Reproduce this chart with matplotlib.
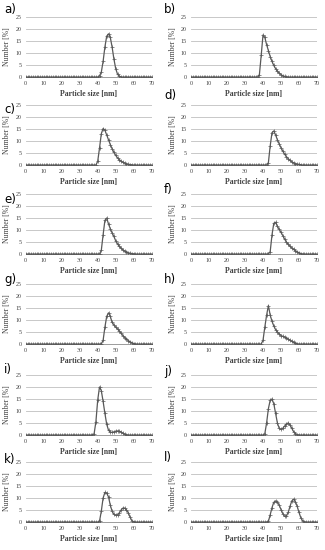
import numpy as np
import matplotlib
matplotlib.use("Agg")
import matplotlib.pyplot as plt

# particle size axis (nm), one point per nm
sizes = list(range(0, 71))

# nonzero part of each distribution: (first size, values in %)
a_vals = (41, [0.5, 2, 6.5, 12.5, 17, 18, 16.5, 12.5, 7.5, 3.5, 1.2, 0.3])
b_vals = (38, [1, 9, 17.5, 16.5, 13.5, 11, 8.5, 6.5, 4.8, 3.5, 2.4, 1.6, 1, 0.5, 0.25, 0.1])
c_vals = (40, [1.5, 7, 13, 15.2, 14.5, 12.5, 10.5, 8.5, 6.8, 5.3, 4, 3, 2.2, 1.6, 1.1,
               0.8, 0.5, 0.3, 0.2, 0.1])
d_vals = (43, [1, 8, 13.5, 14.2, 12.5, 10.5, 8.8, 7.2, 5.8, 4.5, 3.5, 2.6, 1.9, 1.3, 0.9,
               0.6, 0.4, 0.25, 0.1])
e_vals = (42, [1.5, 8, 14, 15, 12.5, 10.5, 8.8, 7.3, 5.5, 4.2, 3.2, 2.4, 1.7, 1.2, 0.8,
               0.5, 0.3, 0.2, 0.1])
f_vals = (44, [1, 8, 12.8, 13.2, 11.5, 10.3, 9, 7.7, 6.2, 5, 4, 3.2, 2.5, 1.9, 1.4, 0.9,
               0.5, 0.2, 0.05])
g_vals = (43, [1.5, 7, 11.5, 13, 11.5, 9, 8, 7, 6.3, 5.4, 4.5, 3.5, 2.7, 2, 1.4, 0.9,
               0.5, 0.2, 0.05])
h_vals = (40, [1.5, 7, 12, 16, 12, 9.5, 7.5, 6, 5, 4.2, 3.5, 3.2, 2.9, 2.5, 2, 1.6, 1.1,
               0.7, 0.3, 0.1])
i_vals = (38, [0.5, 5.5, 14.5, 20, 18.5, 14, 9, 4.5, 2, 1.2, 1.1, 1.3, 1.6, 1.7, 1.6,
               1.2, 0.7, 0.3, 0.1])
j_vals = (41, [0.5, 5, 11, 14.5, 15, 13, 9, 5, 2.8, 2.3, 2.8, 3.7, 4.6, 5, 4.2, 2.8,
               1.4, 0.6, 0.2, 0.05])
k_vals = (41, [0.3, 4.5, 10, 12.3, 12, 10.5, 7, 4.5, 3.2, 2.8, 3, 3.8, 5, 5.8, 5.8, 5,
               3.8, 2, 0.5, 0.1])
l_vals = (43, [0.3, 3, 6, 8.2, 8.8, 8.3, 7, 5.2, 3.5, 2.4, 2.5, 4, 6.5, 8.8, 9.5, 8.5,
               6.5, 4, 1.8, 0.5, 0.1])

panels = ["a)", "b)", "c)", "d)", "e)", "f)", "g)", "h)", "i)", "j)", "k)", "l)"]
series = [a_vals, b_vals, c_vals, d_vals, e_vals, f_vals,
          g_vals, h_vals, i_vals, j_vals, k_vals, l_vals]


def full_series(start, vals):
    # zeros outside the measured peak
    return [0] * start + vals + [0] * (len(sizes) - start - len(vals))


W, H = 325, 550
fig = plt.figure(figsize=(W / 100, H / 100), dpi=100)

col_left = [25.7, 191]
ax_w = 126
row_top = [17, 105, 194, 284, 375, 462]
ax_h = 60
label_y = [10, 9, 109, 95, 199, 190, 279, 280, 370, 372, 460, 458]
label_x = [4, 164]

serif = "Liberation Serif"
for n, (name, (start, vals)) in enumerate(zip(panels, series)):
    r, c = divmod(n, 2)
    x0 = col_left[c]
    y0 = row_top[r] + ax_h
    ax = fig.add_axes([x0 / W, 1 - y0 / H, ax_w / W, ax_h / H])
    y = full_series(start, vals)
    ax.plot(sizes, y, color="#595959", lw=0.9, marker="+", ms=2.2, mew=0.5,
            zorder=3)
    ax.set_xlim(0, 70)
    ax.set_ylim(0, 25)
    ax.set_xticks(range(0, 71, 10))
    ax.set_yticks(range(0, 26, 5))
    ax.yaxis.grid(True, color="#bfbfbf", lw=0.6)
    ax.set_axisbelow(True)
    for s in ["top", "right", "left"]:
        ax.spines[s].set_visible(False)
    ax.spines["bottom"].set_color("#8c8c8c")
    ax.spines["bottom"].set_linewidth(0.6)
    ax.tick_params(length=0, labelsize=4.3, colors="#404040", pad=3)
    for lab in ax.get_xticklabels() + ax.get_yticklabels():
        lab.set_family(serif)
    ax.set_xlabel("Particle size [nm]", family=serif, fontsize=5.5,
                  fontweight="bold", color="#404040", labelpad=3)
    ax.set_ylabel("Number [%]", family=serif, fontsize=5.5,
                  color="#404040", labelpad=3)
    fig.text(label_x[c] / W, 1 - label_y[n] / H, name, fontsize=8.5,
             family="DejaVu Sans", va="center", ha="left")

fig.savefig("out.png", dpi=100)
